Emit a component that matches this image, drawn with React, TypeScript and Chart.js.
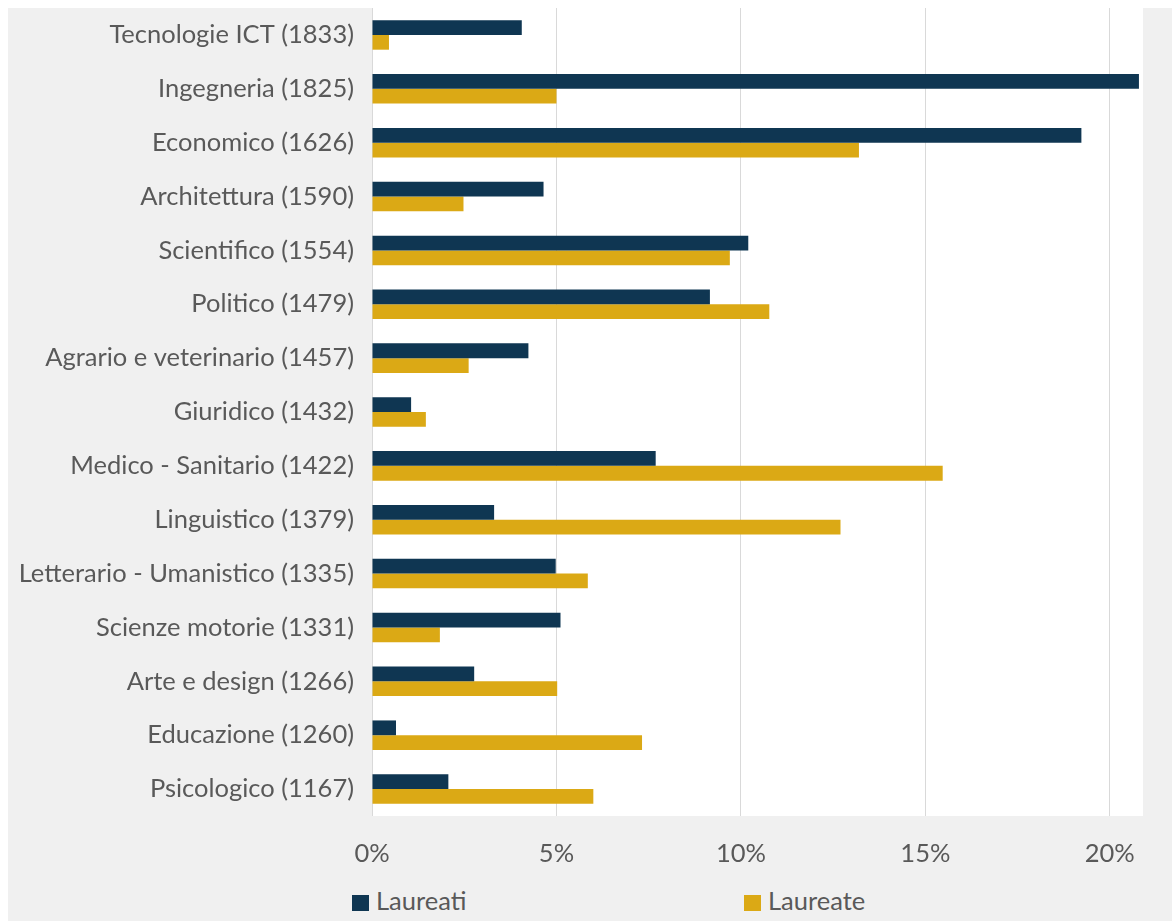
import React, { useEffect, useRef } from "react";
import { Chart, registerables } from "chart.js";

Chart.register(...registerables);

const categories = [
  "Tecnologie ICT (1833)",
  "Ingegneria (1825)",
  "Economico (1626)",
  "Architettura (1590)",
  "Scientifico (1554)",
  "Politico (1479)",
  "Agrario e veterinario (1457)",
  "Giuridico (1432)",
  "Medico - Sanitario (1422)",
  "Linguistico (1379)",
  "Letterario - Umanistico (1335)",
  "Scienze motorie (1331)",
  "Arte e design (1266)",
  "Educazione (1260)",
  "Psicologico (1167)",
];

const laureati = [4.06, 20.79, 19.23, 4.65, 10.2, 9.16, 4.24, 1.06, 7.69, 3.31, 4.98, 5.11, 2.77, 0.65, 2.07];
const laureate = [0.46, 5.0, 13.2, 2.48, 9.7, 10.77, 2.62, 1.46, 15.47, 12.7, 5.85, 1.84, 5.02, 7.32, 6.0];

const tickValues = [0, 5, 10, 15, 20];
const seriesNames = ["Laureati", "Laureate"];

const DARK = "#0f3652";
const GOLD = "#dba915";
const BG = "#f0f0f0";
const TEXT = "#595959";
const FONT = "Lato, 'Open Sans', sans-serif";

const bgPlugin = {
  id: "bgPlugin",
  beforeDraw(chart: any) {
    const { ctx, chartArea } = chart;
    ctx.save();
    ctx.fillStyle = BG;
    ctx.fillRect(0, 0, chart.width, chart.height);
    ctx.fillStyle = "#ffffff";
    ctx.fillRect(chartArea.left, chartArea.top, chartArea.right - chartArea.left, chartArea.bottom - chartArea.top);
    ctx.restore();
  },
};

export default function App() {
  const ref = useRef<HTMLCanvasElement | null>(null);

  useEffect(() => {
    if (!ref.current) return;
    const chart = new Chart(ref.current, {
      type: "bar",
      data: {
        labels: categories,
        datasets: [
          { label: seriesNames[0], data: laureati, backgroundColor: DARK, borderWidth: 0 },
          { label: seriesNames[1], data: laureate, backgroundColor: GOLD, borderWidth: 0 },
        ],
      },
      plugins: [bgPlugin],
      options: {
        indexAxis: "y",
        responsive: false,
        animation: false,
        devicePixelRatio: 1,
        datasets: { bar: { categoryPercentage: 0.548, barPercentage: 1 } },
        layout: { padding: { left: 0, top: 0, right: 29, bottom: 0 } },
        plugins: {
          legend: { display: false },
          tooltip: { enabled: false },
        },
        scales: {
          x: {
            type: "linear",
            min: 0,
            max: 20.9,
            afterBuildTicks: (scale: any) => {
              scale.ticks = tickValues.map((v) => ({ value: v }));
            },
            afterFit: (scale: any) => {
              scale.height = 62;
              scale.paddingLeft = 0;
              scale.paddingRight = 0;
            },
            grid: { color: "#d9d9d9", lineWidth: 1, drawTicks: false },
            border: { display: false },
            ticks: {
              padding: 22,
              color: TEXT,
              font: { family: FONT, size: 25.5 },
              callback: (v: any) => v + "%",
            },
          },
          y: {
            type: "category",
            afterFit: (scale: any) => {
              scale.width = 364;
              scale.paddingTop = 0;
              scale.paddingBottom = 0;
            },
            grid: { display: false, drawTicks: false },
            border: { display: false },
            ticks: {
              padding: 18,
              color: TEXT,
              font: { family: FONT, size: 25.5 },
            },
          },
        },
      },
    });
    return () => chart.destroy();
  }, []);

  const legendItem = (name: string, color: string, left: number) => (
    <div
      key={name}
      style={{
        position: "absolute",
        left,
        top: 877,
        height: 30,
        lineHeight: "30px",
        display: "flex",
        alignItems: "flex-start",
        fontFamily: FONT,
        fontSize: 25.5,
        color: TEXT,
        whiteSpace: "nowrap",
      }}
    >
      <span style={{ display: "inline-block", width: 17, height: 16, background: color, marginTop: 10, marginRight: 7 }} />
      <span>{name}</span>
    </div>
  );

  return (
    <div
      style={{
        position: "absolute",
        left: 8,
        top: 8,
        width: 1164,
        height: 913,
        background: BG,
        overflow: "hidden",
      }}
    >
      <canvas ref={ref} width={1164} height={870} style={{ display: "block" }} />
      {legendItem(seriesNames[0], DARK, 344)}
      {legendItem(seriesNames[1], GOLD, 736)}
    </div>
  );
}
